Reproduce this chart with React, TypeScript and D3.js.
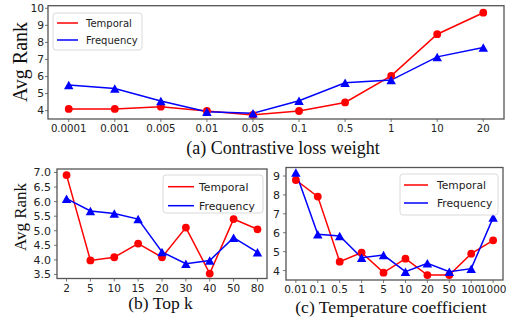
import * as d3 from "d3"

// (a) contrastive loss weight
const weightTicks = ["0.0001", "0.001", "0.005", "0.01", "0.05", "0.1", "0.5", "1", "10", "20"]
const weightTemporal = [4.1, 4.1, 4.23, 3.98, 3.75, 3.98, 4.48, 6.04, 8.48, 9.74]
const weightFrequency = [5.5, 5.3, 4.56, 3.94, 3.84, 4.58, 5.63, 5.79, 7.15, 7.7]
const weightYTicks = [4, 5, 6, 7, 8, 9, 10]

// (b) top k
const topKTicks = ["2", "5", "10", "15", "20", "30", "40", "50", "80"]
const topKTemporal = [6.91, 3.98, 4.09, 4.56, 4.09, 5.11, 3.53, 5.4, 5.05]
const topKFrequency = [6.1, 5.68, 5.59, 5.4, 4.27, 3.87, 3.98, 4.76, 4.26]
const topKYTicks = [3.5, 4.0, 4.5, 5.0, 5.5, 6.0, 6.5, 7.0]

// (c) temperature coefficient
const tempTicks = ["0.01", "0.1", "0.5", "1", "5", "10", "20", "50", "100", "1000"]
const tempTemporal = [8.79, 7.91, 4.47, 4.95, 3.89, 4.63, 3.76, 3.76, 4.89, 5.6]
const tempFrequency = [9.18, 5.92, 5.83, 4.68, 4.82, 3.94, 4.38, 3.94, 4.1, 6.8]
const tempYTicks = [4, 5, 6, 7, 8, 9]

const seriesNames = ["Temporal", "Frequency"]

const SANS = "'DejaVu Sans', sans-serif"
const SERIF = "'Liberation Serif', 'Times New Roman', serif"
const RED = "#ff0000"
const BLUE = "#0000ff"
const FRAME = "#555"

interface PanelProps {
  ticks: string[]
  temporal: number[]
  frequency: number[]
  yTicks: number[]
  yDomain: [number, number]
  yFormat: (v: number) => string
  box: { left: number; right: number; top: number; bottom: number }
  tickFont: number
  yLabel?: { x: number; y: number; size: number }
  title: { text: string; x: number; y: number; size: number }
  legend: { x: number; y: number; w: number; h: number; lineX: number; lineW: number; textX: number; rows: number[]; size: number }
  yLabelGap: number
}

function triangle(cx: number, cy: number) {
  const w = 9.5
  const h = 8.5
  return `M${cx},${cy - h / 2}L${cx + w / 2},${cy + h / 2}L${cx - w / 2},${cy + h / 2}Z`
}

function Panel(p: PanelProps) {
  const n = p.ticks.length
  const pad = (n - 1) * 0.05
  const x = d3.scaleLinear().domain([-pad, n - 1 + pad]).range([p.box.left, p.box.right])
  const y = d3.scaleLinear().domain(p.yDomain).range([p.box.bottom, p.box.top])
  const line = d3
    .line<number>()
    .x((_, i) => x(i))
    .y((d) => y(d))

  return (
    <g>
      {/* lines */}
      <path d={line(p.temporal) || ""} fill="none" stroke={RED} strokeWidth={1.5} />
      <path d={line(p.frequency) || ""} fill="none" stroke={BLUE} strokeWidth={1.5} />
      {p.temporal.map((v, i) => (
        <circle key={"t" + i} cx={x(i)} cy={y(v)} r={3.9} fill={RED} />
      ))}
      {p.frequency.map((v, i) => (
        <path key={"f" + i} d={triangle(x(i), y(v))} fill={BLUE} />
      ))}

      {/* frame */}
      <rect
        x={p.box.left}
        y={p.box.top}
        width={p.box.right - p.box.left}
        height={p.box.bottom - p.box.top}
        fill="none"
        stroke={FRAME}
        strokeWidth={1.3}
      />

      {/* x ticks */}
      {p.ticks.map((t, i) => (
        <g key={"xt" + i}>
          <line x1={x(i)} x2={x(i)} y1={p.box.bottom} y2={p.box.bottom + 3} stroke={FRAME} strokeWidth={0.8} />
          <text
            x={x(i)}
            y={p.box.bottom + 13}
            textAnchor="middle"
            fontFamily={SANS}
            fontSize={p.tickFont}
            fill="#222"
          >
            {t}
          </text>
        </g>
      ))}

      {/* y ticks */}
      {p.yTicks.map((t, i) => (
        <g key={"yt" + i}>
          <line x1={p.box.left - 3} x2={p.box.left} y1={y(t)} y2={y(t)} stroke={FRAME} strokeWidth={0.8} />
          <text
            x={p.box.left - p.yLabelGap}
            y={y(t)}
            dy="0.36em"
            textAnchor="end"
            fontFamily={SANS}
            fontSize={p.tickFont + 0.5}
            fill="#222"
          >
            {p.yFormat(t)}
          </text>
        </g>
      ))}

      {/* legend */}
      <rect
        x={p.legend.x}
        y={p.legend.y}
        width={p.legend.w}
        height={p.legend.h}
        rx={3}
        fill="white"
        fillOpacity={0.85}
        stroke="#d0d0d0"
        strokeWidth={0.8}
      />
      {seriesNames.map((name, i) => (
        <g key={name}>
          <line
            x1={p.legend.lineX}
            x2={p.legend.lineX + p.legend.lineW}
            y1={p.legend.rows[i]}
            y2={p.legend.rows[i]}
            stroke={i === 0 ? RED : BLUE}
            strokeWidth={1.5}
          />
          <text
            x={p.legend.textX}
            y={p.legend.rows[i]}
            dy="0.36em"
            fontFamily={SANS}
            fontSize={p.legend.size}
            fill="#222"
          >
            {name}
          </text>
        </g>
      ))}

      {/* axis label */}
      {p.yLabel && (
        <text
          transform={`translate(${p.yLabel.x},${p.yLabel.y}) rotate(-90)`}
          textAnchor="middle"
          fontFamily={SERIF}
          fontSize={p.yLabel.size}
          fill="#111"
        >
          Avg Rank
        </text>
      )}

      {/* caption */}
      <text
        x={p.title.x}
        y={p.title.y}
        textAnchor="middle"
        fontFamily={SERIF}
        fontSize={p.title.size}
        fill="#111"
      >
        {p.title.text}
      </text>
    </g>
  )
}

export default function App() {
  const fmtInt = d3.format("d")
  const fmt1 = d3.format(".1f")
  return (
    <div style={{ position: "fixed", left: 0, top: 0 }}>
      <svg width={513} height={323} style={{ display: "block", background: "white" }}>
        <Panel
          ticks={weightTicks}
          temporal={weightTemporal}
          frequency={weightFrequency}
          yTicks={weightYTicks}
          yDomain={[3.51, 10.15]}
          yFormat={fmtInt}
          box={{ left: 48, right: 504, top: 5.7, bottom: 119 }}
          tickFont={10.2}
          yLabelGap={4}
          yLabel={{ x: 27, y: 62, size: 20 }}
          title={{ text: "(a) Contrastive loss weight", x: 283, y: 154, size: 18 }}
          legend={{ x: 53, y: 13, w: 89, h: 37, lineX: 57, lineW: 21, textX: 86, rows: [23, 40], size: 10 }}
        />
        <Panel
          ticks={topKTicks}
          temporal={topKTemporal}
          frequency={topKFrequency}
          yTicks={topKYTicks}
          yDomain={[3.36, 7.12]}
          yFormat={fmt1}
          box={{ left: 57, right: 267, top: 169, bottom: 278.5 }}
          tickFont={10.5}
          yLabelGap={6}
          yLabel={{ x: 26, y: 217, size: 17 }}
          title={{ text: "(b) Top k", x: 160.5, y: 309, size: 17.5 }}
          legend={{ x: 163, y: 175, w: 100, h: 38, lineX: 168, lineW: 26, textX: 199, rows: [186.7, 205.7], size: 10.8 }}
        />
        <Panel
          ticks={tempTicks}
          temporal={tempTemporal}
          frequency={tempFrequency}
          yTicks={tempYTicks}
          yDomain={[3.5, 9.45]}
          yFormat={fmtInt}
          box={{ left: 286, right: 503, top: 167.5, bottom: 280 }}
          tickFont={10.5}
          yLabelGap={6}
          title={{ text: "(c) Temperature coefficient", x: 391, y: 313, size: 17.6 }}
          legend={{ x: 400, y: 174, w: 98, h: 41, lineX: 404, lineW: 24, textX: 437, rows: [185, 203], size: 10.7 }}
        />
      </svg>
    </div>
  )
}
